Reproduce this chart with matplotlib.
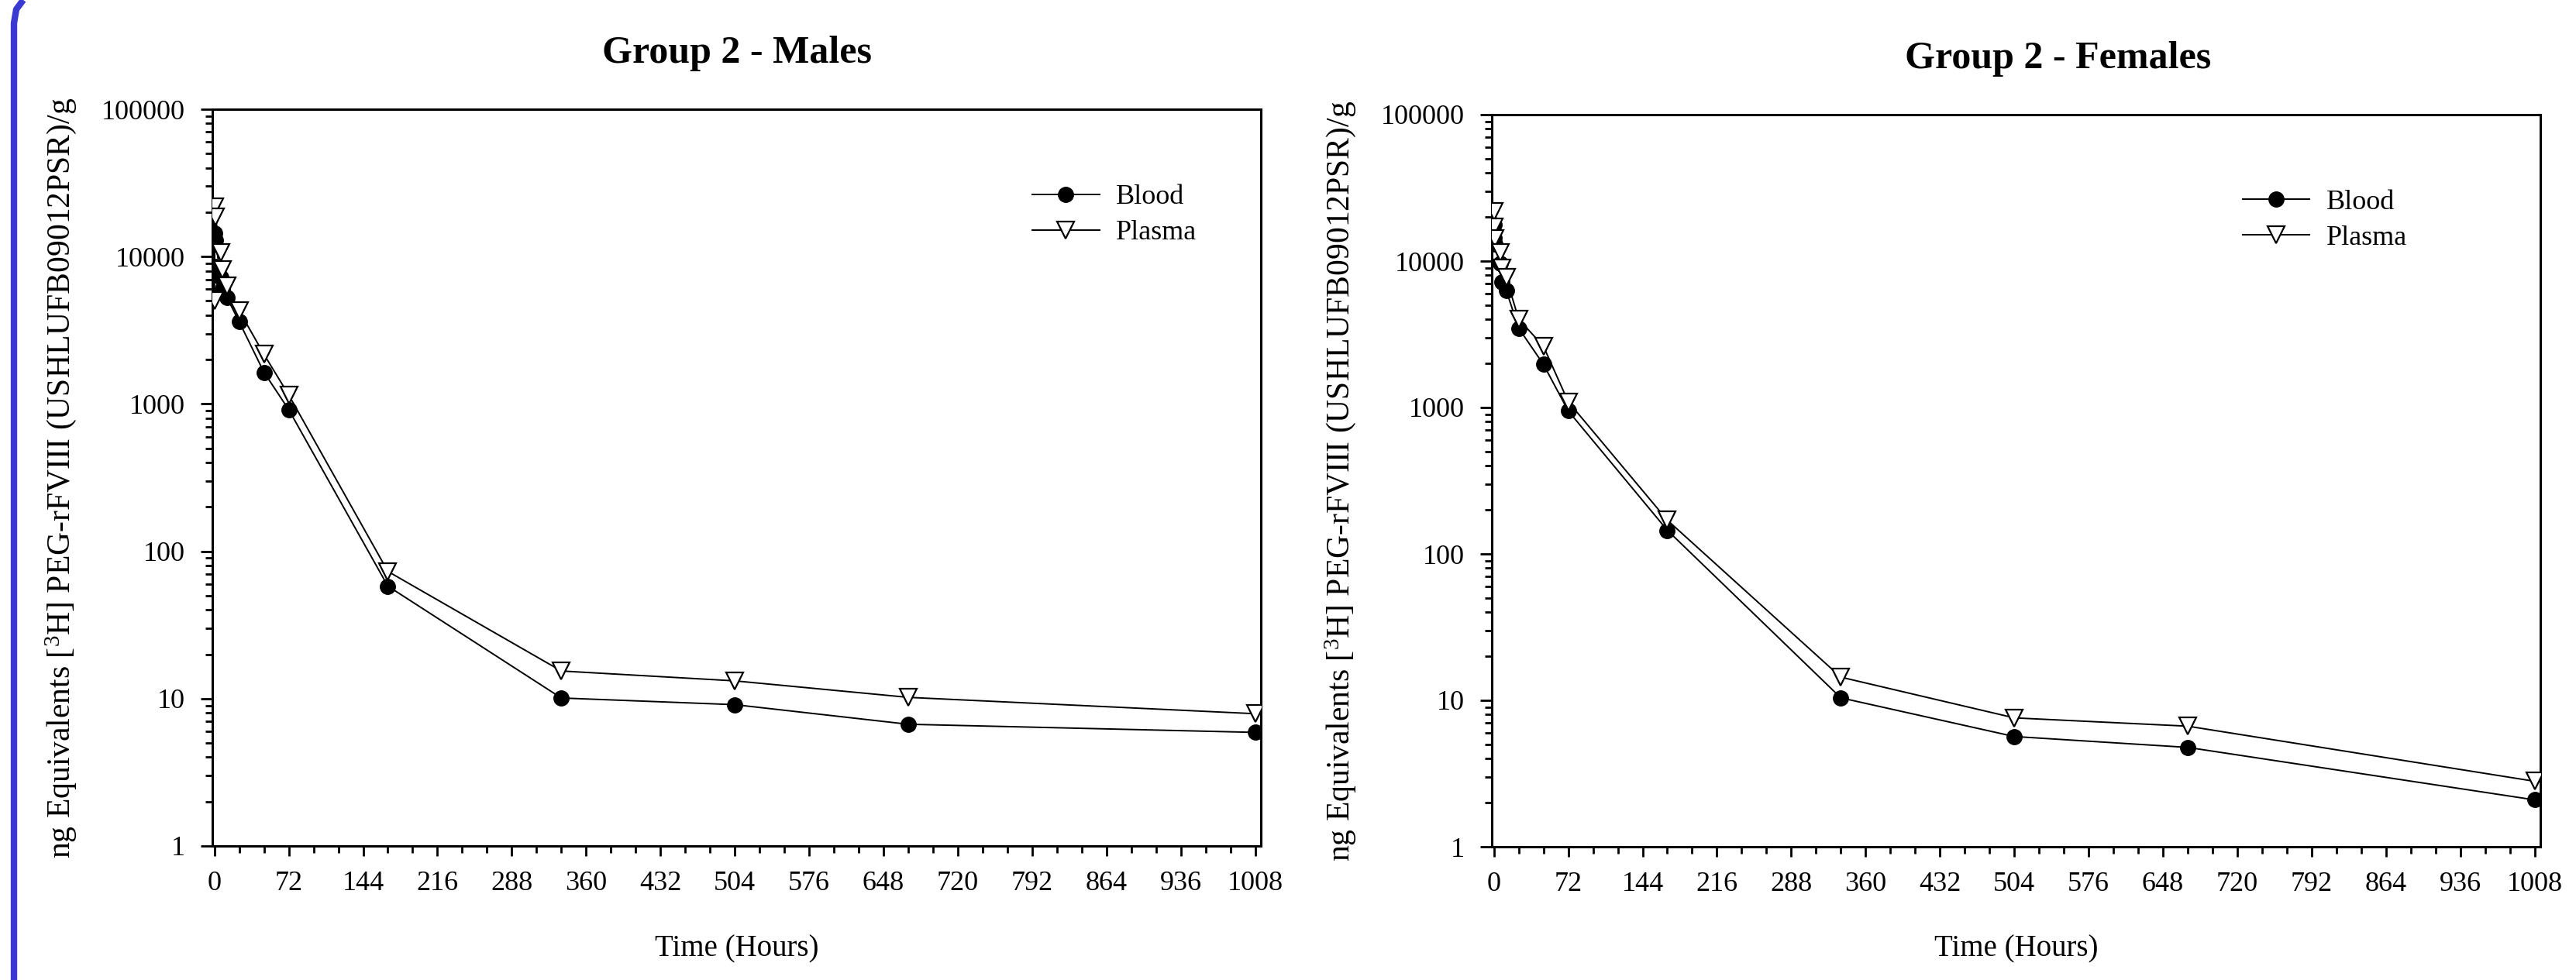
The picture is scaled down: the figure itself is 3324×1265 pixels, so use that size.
import matplotlib
matplotlib.use("Agg")
import matplotlib.pyplot as plt
import numpy as np
from matplotlib.lines import Line2D
from matplotlib.ticker import FixedLocator, FuncFormatter, LogLocator, NullFormatter

plt.rcParams['font.family'] = ['Liberation Serif', 'DejaVu Serif']
plt.rcParams['mathtext.fontset'] = 'custom'
plt.rcParams['mathtext.rm'] = 'Liberation Serif'

# sampling times (hours)
time_h = [0.083, 0.25, 1, 6, 8, 12, 24, 48, 72, 168, 336, 504, 672, 1008]

# Group 2 - Males
male_blood = [8600, 14500, 13000, 7200, 6000, 5300, 3610, 1640, 914, 58, 10.1, 9.1, 6.7, 5.9]
male_plasma = [5040, 21700, 18600, 10600, 8200, 6300, 4290, 2170, 1150, 73, 15.4, 13.2, 10.2, 7.9]

# Group 2 - Females
female_blood = [17700, 14500, 13000, 9700, 7200, 6300, 3480, 1970, 948, 145, 10.4, 5.66, 4.77, 2.09]
female_plasma = [21800, 17000, 14200, 11400, 9000, 7700, 4010, 2620, 1095, 170, 14.4, 7.59, 6.66, 2.80]

x_ticks = list(range(0, 1009, 72))
y_ticks = [1, 10, 100, 1000, 10000, 100000]

ylab = r"ng Equivalents [$\mathregular{^{3}}$H] PEG-rFVIII (USHLUFB09012PSR)/g"

W, H = 3324, 1265
fig = plt.figure(figsize=(W / 100, H / 100), dpi=100)
ax1 = fig.add_axes([274 / W, 1 - 1092 / H, 1353 / W, (1092 - 141) / H])
ax2 = fig.add_axes([1925 / W, 1 - 1093 / H, 1353 / W, (1093 - 148) / H])


def draw_panel(ax, blood, plasma, title, title_x):
    ax.plot(time_h, blood, color='black', lw=1.4, marker='o', ms=14,
            mfc='black', mec='black', label='Blood', zorder=3)
    ax.plot(time_h, plasma, color='black', lw=1.4, marker='v', ms=16,
            mfc='white', mec='black', mew=1.6, label='Plasma', zorder=4)
    ax.set_yscale('log')
    ax.set_xlim(-2, 1013.5)
    ax.set_ylim(1, 100000)

    ax.xaxis.set_major_locator(FixedLocator(x_ticks))
    ax.xaxis.set_minor_locator(FixedLocator(list(range(0, 1009, 24))))
    ax.yaxis.set_major_locator(FixedLocator(y_ticks))
    ax.yaxis.set_minor_locator(LogLocator(base=10, subs=np.arange(2, 10)))
    ax.yaxis.set_major_formatter(FuncFormatter(lambda v, p: '%d' % v))
    ax.yaxis.set_minor_formatter(NullFormatter())

    ax.tick_params(axis='both', which='both', direction='out', width=2,
                   top=False, right=False, labelsize=26, pad=14)
    ax.tick_params(axis='y', which='major', length=11)
    ax.tick_params(axis='y', which='minor', length=6.5)
    ax.tick_params(axis='x', which='major', length=9)
    ax.tick_params(axis='x', which='minor', length=6.5)
    for s in ax.spines.values():
        s.set_linewidth(2.2)

    ax.set_title(title, fontsize=36, fontweight='bold', pad=43, x=title_x)
    ax.set_xlabel('Time (Hours)', fontsize=28)
    ax.xaxis.set_label_coords(0.5, -0.12)
    ax.set_ylabel(ylab, fontsize=30)
    ax.yaxis.set_label_coords(-0.128, 0.5)

    ax.legend(loc='upper left', bbox_to_anchor=(0.728, 0.898), frameon=False,
              fontsize=26, numpoints=1, handlelength=2.4, handletextpad=0.6,
              labelspacing=0.35, borderpad=0, borderaxespad=0)


draw_panel(ax1, male_blood, male_plasma, 'Group 2 - Males', 0.5)
draw_panel(ax2, female_blood, female_plasma, 'Group 2 - Females', 0.54)
ax1.get_legend().set_bbox_to_anchor((0.782, 0.898))
ax2.get_legend().set_bbox_to_anchor((0.716, 0.898))

# blue window edge on the left of the screenshot
fig.add_artist(Line2D([18 / W, 18 / W, 21 / W, 30 / W], [0, 1 - 30 / H, 1 - 12 / H, 1],
                      transform=fig.transFigure, color='#3a3ad2', lw=6,
                      solid_capstyle='butt'))

fig.savefig('out.png', dpi=100, facecolor='white')
